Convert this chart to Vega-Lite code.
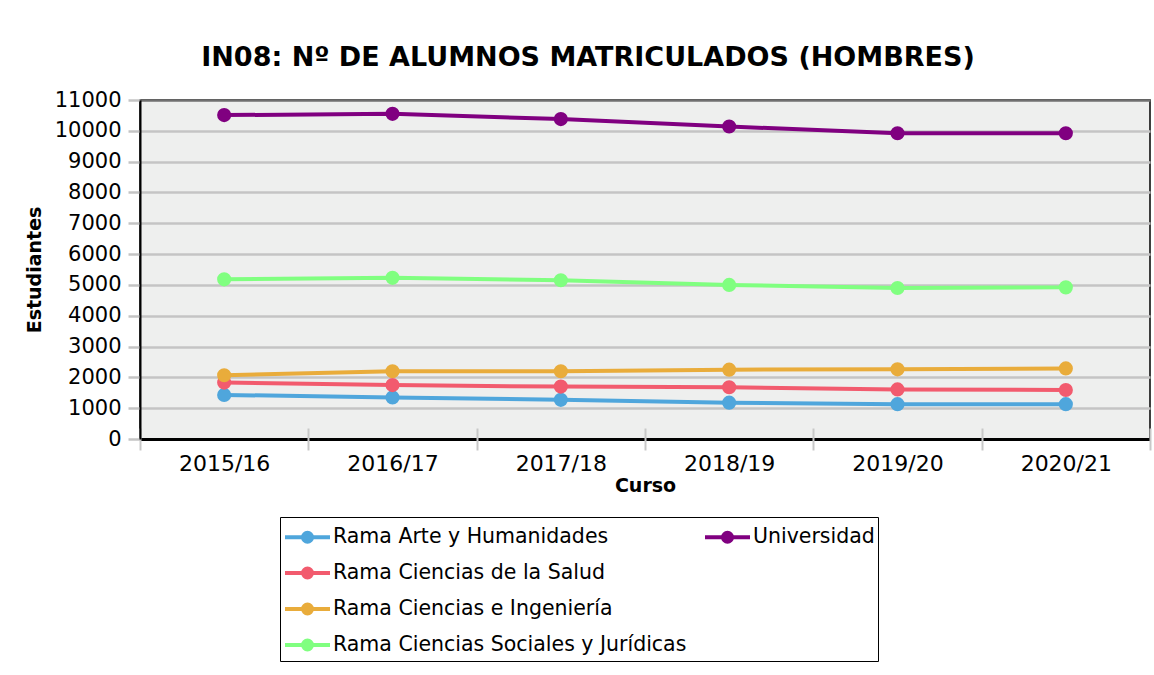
{
  "$schema": "https://vega.github.io/schema/vega-lite/v6.json",
  "width": 1010,
  "height": 339,
  "autosize": {"type": "none"},
  "padding": {"left": 140, "top": 100, "right": 4, "bottom": 236},
  "background": "white",
  "title": {
    "text": "IN08: Nº DE ALUMNOS MATRICULADOS (HOMBRES)",
    "font": "DejaVu Sans",
    "fontSize": 27,
    "fontWeight": "bold",
    "color": "black",
    "anchor": "middle",
    "dx": -57,
    "offset": 17
  },
  "config": {
    "view": {"fill": "#eeefee", "stroke": "black", "strokeWidth": 1.5},
    "axis": {"labelFont": "DejaVu Sans", "titleFont": "DejaVu Sans", "labelColor": "black", "titleColor": "black"}
  },
  "data": {
    "values": [
      {"curso": "2015/16", "rama": "Rama Arte y Humanidades", "valor": 1430},
      {"curso": "2016/17", "rama": "Rama Arte y Humanidades", "valor": 1350},
      {"curso": "2017/18", "rama": "Rama Arte y Humanidades", "valor": 1270},
      {"curso": "2018/19", "rama": "Rama Arte y Humanidades", "valor": 1180},
      {"curso": "2019/20", "rama": "Rama Arte y Humanidades", "valor": 1130},
      {"curso": "2020/21", "rama": "Rama Arte y Humanidades", "valor": 1130},
      {"curso": "2015/16", "rama": "Rama Ciencias de la Salud", "valor": 1830},
      {"curso": "2016/17", "rama": "Rama Ciencias de la Salud", "valor": 1750},
      {"curso": "2017/18", "rama": "Rama Ciencias de la Salud", "valor": 1700},
      {"curso": "2018/19", "rama": "Rama Ciencias de la Salud", "valor": 1680},
      {"curso": "2019/20", "rama": "Rama Ciencias de la Salud", "valor": 1610},
      {"curso": "2020/21", "rama": "Rama Ciencias de la Salud", "valor": 1590},
      {"curso": "2015/16", "rama": "Rama Ciencias e Ingeniería", "valor": 2070},
      {"curso": "2016/17", "rama": "Rama Ciencias e Ingeniería", "valor": 2200},
      {"curso": "2017/18", "rama": "Rama Ciencias e Ingeniería", "valor": 2200},
      {"curso": "2018/19", "rama": "Rama Ciencias e Ingeniería", "valor": 2250},
      {"curso": "2019/20", "rama": "Rama Ciencias e Ingeniería", "valor": 2260},
      {"curso": "2020/21", "rama": "Rama Ciencias e Ingeniería", "valor": 2290},
      {"curso": "2015/16", "rama": "Rama Ciencias Sociales y Jurídicas", "valor": 5180},
      {"curso": "2016/17", "rama": "Rama Ciencias Sociales y Jurídicas", "valor": 5230},
      {"curso": "2017/18", "rama": "Rama Ciencias Sociales y Jurídicas", "valor": 5150},
      {"curso": "2018/19", "rama": "Rama Ciencias Sociales y Jurídicas", "valor": 5000},
      {"curso": "2019/20", "rama": "Rama Ciencias Sociales y Jurídicas", "valor": 4900},
      {"curso": "2020/21", "rama": "Rama Ciencias Sociales y Jurídicas", "valor": 4920},
      {"curso": "2015/16", "rama": "Universidad", "valor": 10510},
      {"curso": "2016/17", "rama": "Universidad", "valor": 10550},
      {"curso": "2017/18", "rama": "Universidad", "valor": 10380},
      {"curso": "2018/19", "rama": "Universidad", "valor": 10140},
      {"curso": "2019/20", "rama": "Universidad", "valor": 9920},
      {"curso": "2020/21", "rama": "Universidad", "valor": 9920}
    ]
  },
  "encoding": {
    "x": {
      "field": "curso",
      "type": "ordinal",
      "scale": {"type": "band", "paddingInner": 0, "paddingOuter": 0},
      "axis": {
        "title": "Curso",
        "titleFontSize": 19,
        "titleFontWeight": "bold",
        "titlePadding": 2,
        "labelAngle": 0,
        "labelFontSize": 22,
        "labelPadding": 3,
        "domain": false,
        "offset": -11,
        "tickBand": "extent",
        "tickSize": 22,
        "tickColor": "#c8c8c8",
        "tickWidth": 2
      }
    },
    "y": {
      "field": "valor",
      "type": "quantitative",
      "scale": {"domain": [0, 11000], "nice": false},
      "axis": {
        "title": "Estudiantes",
        "titleFontSize": 19,
        "titleFontWeight": "bold",
        "titlePadding": 10,
        "values": [0, 1000, 2000, 3000, 4000, 5000, 6000, 7000, 8000, 9000, 10000, 11000],
        "format": "d",
        "labelFontSize": 21,
        "labelPadding": 7,
        "domainColor": "black",
        "domainWidth": 2,
        "tickSize": 12,
        "tickColor": "#c4c4c4",
        "tickWidth": 2.5,
        "grid": true,
        "gridColor": {"condition": [{"test": "datum.value === 0", "value": "black"}, {"test": "datum.value === 11000", "value": "#707070"}], "value": "#c4c4c4"},
        "gridWidth": {"condition": {"test": "datum.value === 0", "value": 3}, "value": 2.5}
      }
    },
    "color": {
      "field": "rama",
      "type": "nominal",
      "scale": {
        "domain": ["Rama Arte y Humanidades", "Rama Ciencias de la Salud", "Rama Ciencias e Ingeniería", "Rama Ciencias Sociales y Jurídicas", "Universidad", " ", "  ", "   "],
        "range": ["#4fa6dc", "#f25b6e", "#e9ac3b", "#80ff80", "#800080", "transparent", "transparent", "transparent"]
      },
      "legend": {
        "title": null,
        "orient": "none",
        "legendX": 140,
        "legendY": 417,
        "columns": 2,
        "columnPadding": 10,
        "rowPadding": 6,
        "padding": 3,
        "strokeColor": "black",
        "fillColor": "white",
        "symbolType": "M-1,0L2,0M0.8,0A0.3,0.3,0,1,1,0.2,0A0.3,0.3,0,1,1,0.8,0Z",
        "symbolSize": 900,
        "symbolStrokeWidth": 4,
        "symbolOpacity": 1,
        "labelFont": "DejaVu Sans",
        "labelFontSize": 20.5,
        "labelColor": "black",
        "labelOffset": 16,
        "labelLimit": 600,
        "encode": {
          "symbols": {
            "update": {
              "fill": {"scale": "color", "field": "value"},
              "stroke": {"scale": "color", "field": "value"},
              "strokeWidth": {"value": 4},
              "opacity": {"value": 1}
            }
          }
        }
      }
    }
  },
  "layer": [
    {"mark": {"type": "line", "strokeWidth": 4}},
    {"mark": {"type": "point", "filled": true, "size": 200, "opacity": 1}}
  ]
}
